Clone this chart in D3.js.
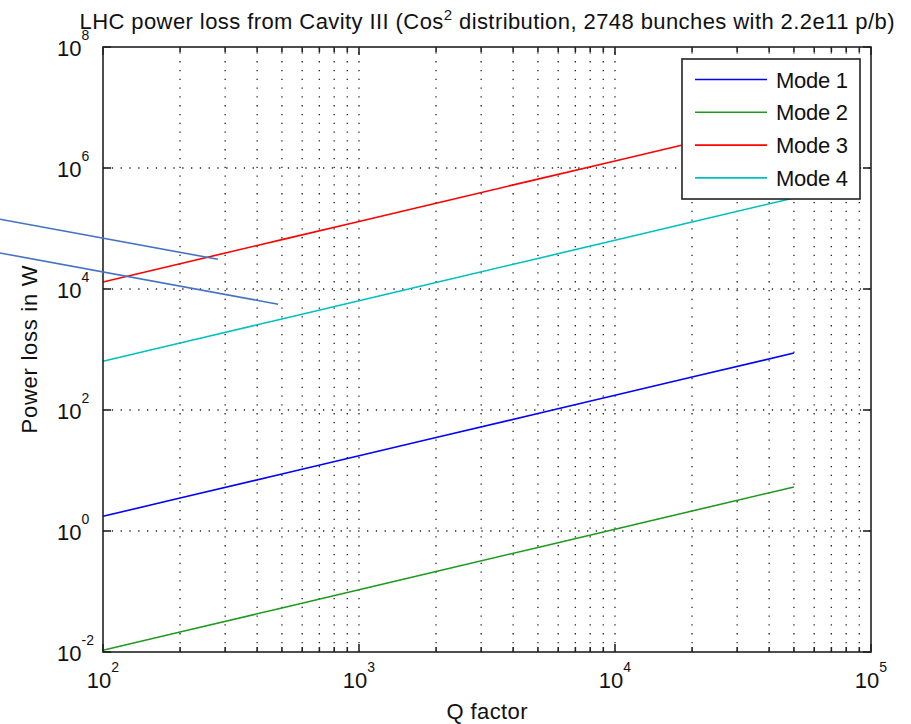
<!DOCTYPE html>
<html>
<head>
<meta charset="utf-8">
<script src="https://cdn.jsdelivr.net/npm/d3@7"></script>
<style>
  html, body { margin: 0; padding: 0; background: #fff; }
  svg { display: block; }
  text { font-family: "Liberation Sans", Arial, sans-serif; fill: #111; }
</style>
</head>
<body>
<svg id="chart" width="911" height="724"></svg>
<script>
// Q factor sample points (log-spaced) and power loss per mode, in W
const qFactor = [100, 200, 500, 1000, 2000, 5000, 10000, 20000, 50000];
const mode1 = [1.75, 3.5, 8.75, 17.5, 35, 87.5, 175, 350, 875];
const mode2 = [0.0107, 0.0214, 0.0535, 0.107, 0.214, 0.535, 1.07, 2.14, 5.35];
const mode3 = [1.31e4, 2.62e4, 6.55e4, 1.31e5, 2.62e5, 6.55e5, 1.31e6, 2.62e6, 6.55e6];
const mode4 = [640, 1280, 3200, 6400, 12800, 32000, 64000, 128000, 320000];

const seriesNames = ["Mode 1", "Mode 2", "Mode 3", "Mode 4"];
const seriesValues = [mode1, mode2, mode3, mode4];
const seriesColors = ["#0000ff", "#1f9a1f", "#ff0000", "#00c0c0"];

// Axis ticks (labelled decades)
const xTickExponents = [2, 3, 4, 5];
const yTickExponents = [-2, 0, 2, 4, 6, 8];

// Callout leader lines, in data coordinates [Q, W]
const callouts = [
  [[39.6, 1.42e5], [281, 3.1e4]],
  [[39.6, 3.94e4], [483, 5.6e3]]
];

const svg = d3.select("#chart");
const margin = { left: 103, right: 911 - 871, top: 47, bottom: 724 - 652 };
const W = 911, H = 724;

const x = d3.scaleLog().domain([1e2, 1e5]).range([margin.left, W - margin.right]);
const y = d3.scaleLog().domain([1e-2, 1e8]).range([H - margin.bottom, margin.top]);

const [x0, x1] = x.range();
const [y0, y1] = y.range();

// Minor x positions: 2..9 x 10^k
const xMinor = [];
for (let k = 2; k < 5; k++) for (let m = 2; m <= 9; m++) xMinor.push(m * Math.pow(10, k));
const xMajor = xTickExponents.map(e => Math.pow(10, e));
const yMajor = yTickExponents.map(e => Math.pow(10, e));

// Dotted grid
const grid = svg.append("g")
  .attr("stroke", "#222")
  .attr("stroke-width", 1.3)
  .attr("stroke-dasharray", "1.3,7.5");
grid.selectAll(".vg").data(xMajor.concat(xMinor).filter(v => v > 1e2 && v < 1e5))
  .enter().append("line")
  .attr("x1", d => x(d)).attr("x2", d => x(d))
  .attr("y1", y0).attr("y2", y1);
grid.selectAll(".hg").data(yMajor.filter(v => v > 1e-2 && v < 1e8))
  .enter().append("line")
  .attr("x1", x0).attr("x2", x1)
  .attr("y1", d => y(d)).attr("y2", d => y(d));

// Data lines
const line = d3.line().x(d => x(d[0])).y(d => y(d[1]));
seriesValues.forEach((vals, i) => {
  svg.append("path")
    .datum(qFactor.map((q, j) => [q, vals[j]]))
    .attr("fill", "none")
    .attr("stroke", seriesColors[i])
    .attr("stroke-width", 1.6)
    .attr("d", line);
});

// Axes box and inward ticks
const axes = svg.append("g").attr("stroke", "#222").attr("stroke-width", 1.6);
axes.append("rect")
  .attr("x", x0).attr("y", y1)
  .attr("width", x1 - x0).attr("height", y0 - y1)
  .attr("fill", "none");

const tickX = (vals, len) => {
  vals.forEach(v => {
    axes.append("line").attr("x1", x(v)).attr("x2", x(v)).attr("y1", y0).attr("y2", y0 - len);
    axes.append("line").attr("x1", x(v)).attr("x2", x(v)).attr("y1", y1).attr("y2", y1 + len);
  });
};
tickX(xMajor, 8);
tickX(xMinor, 5);
yMajor.forEach(v => {
  axes.append("line").attr("x1", x0).attr("x2", x0 + 8).attr("y1", y(v)).attr("y2", y(v));
  axes.append("line").attr("x1", x1).attr("x2", x1 - 8).attr("y1", y(v)).attr("y2", y(v));
});

// Tick labels with superscript exponents
xTickExponents.forEach(e => {
  const t = svg.append("text")
    .attr("x", x(Math.pow(10, e)))
    .attr("y", y0 + 36)
    .attr("text-anchor", "middle")
    .attr("font-size", 22);
  t.append("tspan").text("10");
  t.append("tspan").attr("dy", -16).attr("font-size", 14).text(e);
});
yTickExponents.forEach(e => {
  const t = svg.append("text")
    .attr("x", 57)
    .attr("y", y(Math.pow(10, e)) + 9)
    .attr("text-anchor", "start")
    .attr("font-size", 22);
  t.append("tspan").text("10");
  t.append("tspan").attr("dy", -16).attr("font-size", 14).text(e);
});

// Axis titles
svg.append("text")
  .attr("x", (x0 + x1) / 2).attr("y", 719)
  .attr("text-anchor", "middle").attr("font-size", 22)
  .attr("textLength", 81)
  .text("Q factor");
svg.append("text")
  .attr("transform", `translate(37,${(y0 + y1) / 2}) rotate(-90)`)
  .attr("text-anchor", "middle").attr("font-size", 22)
  .attr("textLength", 168)
  .text("Power loss in W");

// Title
const title = svg.append("text")
  .attr("x", (x0 + x1) / 2).attr("y", 29)
  .attr("text-anchor", "middle").attr("font-size", 22)
  .attr("textLength", 815);
title.append("tspan").text("LHC power loss from Cavity III (Cos");
title.append("tspan").attr("dy", -9).attr("font-size", 15).text("2");
title.append("tspan").attr("dy", 9).text(" distribution, 2748 bunches with 2.2e11 p/b)");

// Legend
const lg = svg.append("g").attr("transform", "translate(682,59)");
lg.append("rect").attr("width", 178).attr("height", 140)
  .attr("fill", "#fff").attr("stroke", "#222").attr("stroke-width", 1.6);
seriesNames.forEach((name, i) => {
  const cy = 20.5 + i * 32.8;
  lg.append("line").attr("x1", 13).attr("x2", 85).attr("y1", cy).attr("y2", cy)
    .attr("stroke", seriesColors[i]).attr("stroke-width", 1.6);
  lg.append("text").attr("x", 94).attr("y", cy + 8).attr("font-size", 22)
    .attr("textLength", 72).text(name);
});

// Callout leader lines
svg.append("g").selectAll("line").data(callouts).enter().append("line")
  .attr("x1", d => x(d[0][0])).attr("y1", d => y(d[0][1]))
  .attr("x2", d => x(d[1][0])).attr("y2", d => y(d[1][1]))
  .attr("stroke", "#4472c4").attr("stroke-width", 1.6);
</script>
</body>
</html>
